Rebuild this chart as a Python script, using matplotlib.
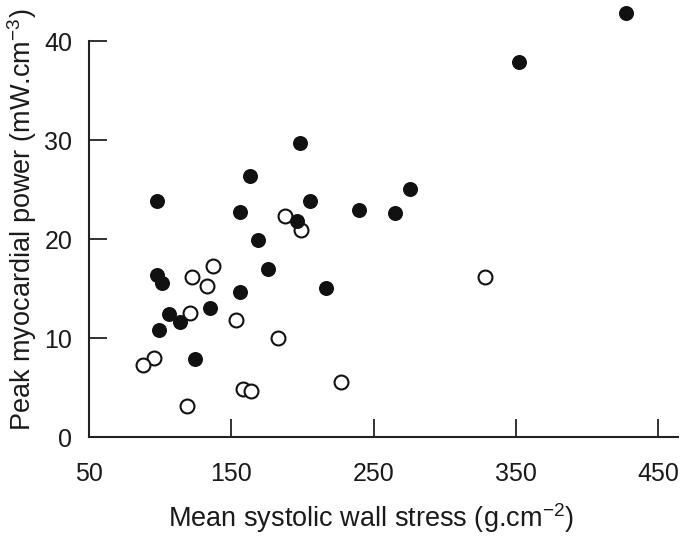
import matplotlib
matplotlib.use('Agg')
import matplotlib.pyplot as plt

# filled circles
filled_x = [427.3, 352.0, 275.6, 240.0, 264.9, 198.3, 163.1, 97.5, 205.3, 156.1, 195.9,
            169.0, 176.0, 156.1, 216.6, 98.1, 101.0, 135.0, 106.4, 113.9, 99.0, 124.8]
filled_y = [42.8, 37.9, 25.1, 23.0, 22.7, 29.7, 26.4, 23.9, 23.9, 22.8, 21.8,
            19.9, 17.0, 14.7, 15.1, 16.4, 15.6, 13.1, 12.5, 11.7, 10.8, 7.9]

# open circles
open_x = [328.4, 187.7, 198.8, 137.3, 122.5, 132.7, 120.9, 153.3, 183.0, 95.8, 87.7,
          158.4, 163.8, 226.9, 119.0]
open_y = [16.2, 22.4, 20.9, 17.3, 16.2, 15.3, 12.6, 11.9, 10.0, 8.0, 7.3,
          4.9, 4.7, 5.6, 3.2]

xticks = [50, 150, 250, 350, 450]
yticks = [0, 10, 20, 30, 40]

plt.rcParams['font.family'] = ['Liberation Sans', 'DejaVu Sans']
plt.rcParams['mathtext.fontset'] = 'custom'
plt.rcParams['mathtext.rm'] = 'Liberation Sans'
plt.rcParams['mathtext.default'] = 'regular'

fig = plt.figure(figsize=(6.85, 5.38), dpi=100)
ax = fig.add_axes([0.130, 0.187, 0.860, 0.810])

ax.plot(open_x, open_y, 'o', ms=10, mfc='white', mec='#111111', mew=1.5, clip_on=False)
ax.plot(filled_x, filled_y, 'o', ms=10.8, mfc='#111111', mec='#111111', mew=0, clip_on=False)

ax.set_xlim(50, 464)
ax.set_ylim(0, 44)
ax.set_xticks(xticks)
ax.set_yticks(yticks)

for s in ['top', 'right']:
    ax.spines[s].set_visible(False)
ax.spines['left'].set_bounds(0, 40)
for s in ['left', 'bottom']:
    ax.spines[s].set_linewidth(1.5)
    ax.spines[s].set_color('#222222')

ax.tick_params(axis='both', direction='in', length=13, width=1.3, colors='#222222',
               labelsize=18, labelcolor='#1a1a1a')
ax.tick_params(axis='x', pad=18)
ax.tick_params(axis='y', pad=12)

# label sits a bit left of the axis centre in the original
ax.set_xlabel('Mean systolic wall stress (g.cm$^{\u22122}$)', fontsize=19.5, color='#1a1a1a',
              labelpad=11, x=0.478)
ax.set_ylabel('Peak myocardial power (mW.cm$^{\u22123}$)', fontsize=19.5, color='#1a1a1a', labelpad=4)

plt.savefig('out.png', dpi=100)
plt.close()
